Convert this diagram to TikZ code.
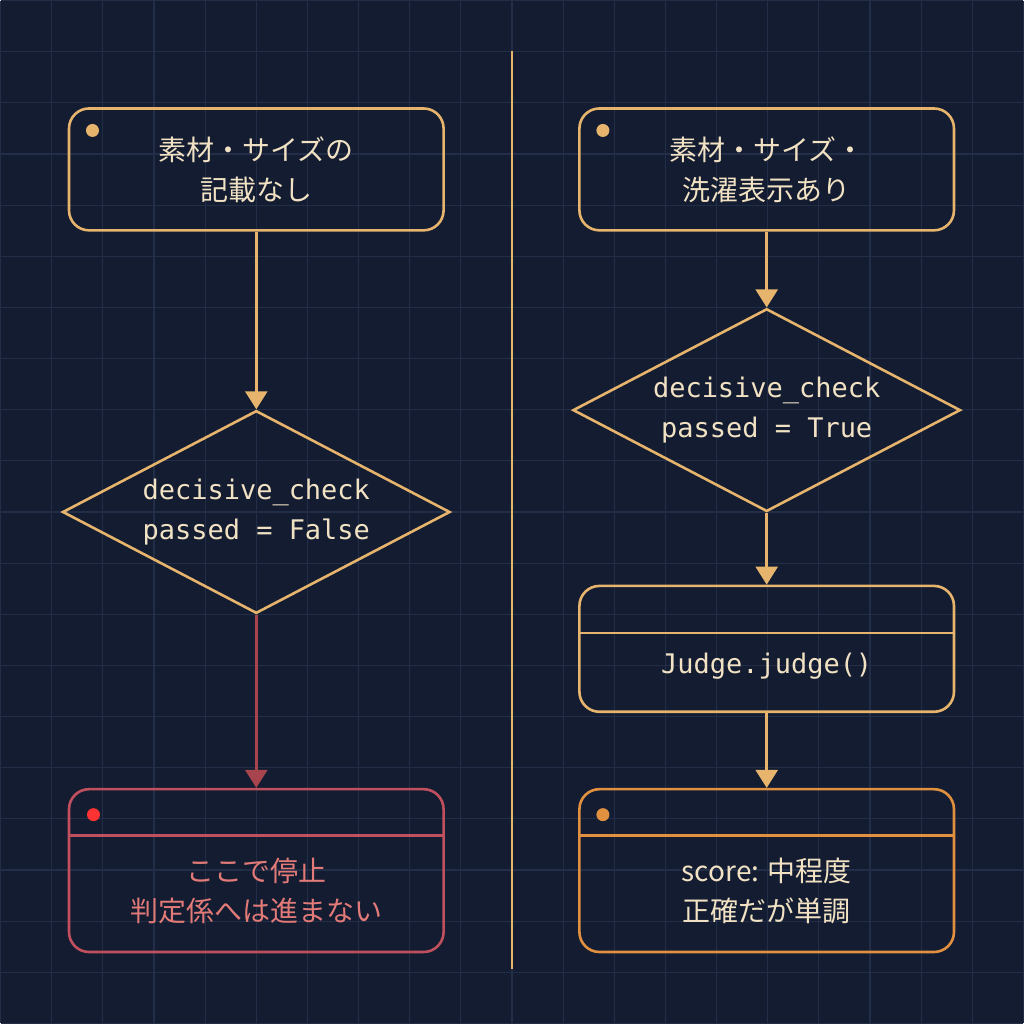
\documentclass[tikz,border=0pt]{standalone}
\usepackage{fontspec}
\setmainfont{Noto Sans CJK JP}
\newfontfamily\codefont{DejaVu Sans Mono}
\usetikzlibrary{shapes.geometric,arrows.meta}
\definecolor{bgnavy}{HTML}{131C31}
\definecolor{gridline}{HTML}{222E48}
\definecolor{amber}{HTML}{E6B46C}
\definecolor{cream}{HTML}{F2E2C4}
\definecolor{stopred}{HTML}{C0505E}
\definecolor{stoptext}{HTML}{E27A78}
\definecolor{arrowred}{HTML}{A8444E}
\definecolor{scoreorange}{HTML}{E0903E}
\begin{document}
\begin{tikzpicture}[x=1pt,y=-1pt,line width=2.6pt,
  every node/.style={inner sep=0pt,font=\fontsize{28}{40}\selectfont},
  box/.style={draw=amber,rounded corners=20pt,minimum width=375pt,minimum height=122pt,align=center,text=cream},
  tallbox/.style={box,minimum height=163pt},
  decision/.style={draw=amber,diamond,aspect=1.9,minimum width=388pt,minimum height=203pt,align=center,text=cream,font=\codefont\fontsize{27}{40}\selectfont},
  flow/.style={draw=amber,-{Triangle[width=22pt,length=18pt]}},
  dot/.style={circle,fill=#1,minimum size=13pt}]
  % background and grid
  \fill [bgnavy] (0,0) rectangle (1024,1024);
  \foreach \g in {0,51.2,...,1024} {
    \draw [gridline,line width=1.2pt] (\g,0) -- (\g,1024);
    \draw [gridline,line width=1.2pt] (0,\g) -- (1024,\g);
  }
  \draw [amber,line width=2.2pt] (512,50) -- (512,970);

  % left column
  \node [box] (leftin) at (256,169) {素材・サイズの\\記載なし};
  \node [dot=amber] at (92,130) {};
  \node [decision] (leftcheck) at (256,512) {decisive\_check\\passed = False};
  \node [tallbox,draw=stopred,text=stoptext] (stop) at (256,871) {\strut\\[-4pt]ここで停止\\判定係へは進まない};
  \draw [stopred] (stop.west |- 0,836) -- (stop.east |- 0,836);
  \node [dot=red!80!white] at (93,815) {};
  \draw [flow,fill=amber] (leftin) -- (leftcheck);
  \draw [flow,draw=arrowred,fill=arrowred] (leftcheck) -- (stop);

  % right column
  \node [box] (rightin) at (767,169) {素材・サイズ・\\洗濯表示あり};
  \node [dot=amber] at (603,130) {};
  \node [decision] (rightcheck) at (767,410) {decisive\_check\\passed = True};
  \node [box,minimum height=126pt,font=\codefont\fontsize{27}{40}\selectfont] (judge) at (767,649) {\strut\\[-12pt]Judge.judge()};
  \draw [amber] (judge.west |- 0,633) -- (judge.east |- 0,633);
  \node [tallbox,draw=scoreorange] (score) at (767,871) {\strut\\[-4pt]score: 中程度\\正確だが単調};
  \draw [scoreorange] (score.west |- 0,836) -- (score.east |- 0,836);
  \node [dot=scoreorange] at (603,815) {};
  \draw [flow,fill=amber] (rightin) -- (rightcheck);
  \draw [flow,fill=amber] (rightcheck) -- (judge);
  \draw [flow,fill=amber] (judge) -- (score);
\end{tikzpicture}
\end{document}
